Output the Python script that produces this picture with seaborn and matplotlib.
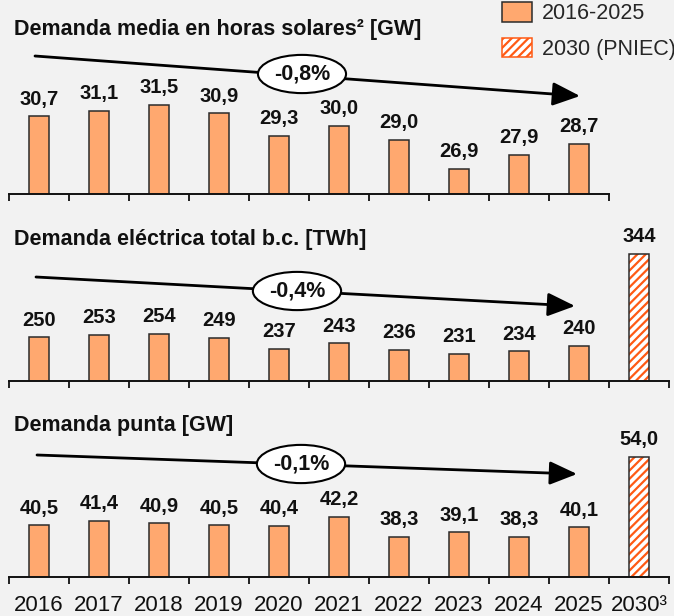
import matplotlib
matplotlib.use("Agg")
import matplotlib.pyplot as plt
from matplotlib.patches import Patch, Rectangle
import pandas as pd
import seaborn as sns

years = ["2016", "2017", "2018", "2019", "2020", "2021", "2022", "2023", "2024", "2025", "2030"]
year_labels = ["2016", "2017", "2018", "2019", "2020", "2021", "2022", "2023", "2024", "2025", "2030³"]

solar_gw = [30.7, 31.1, 31.5, 30.9, 29.3, 30.0, 29.0, 26.9, 27.9, 28.7]
total_twh = [250, 253, 254, 249, 237, 243, 236, 231, 234, 240, 344]
peak_gw = [40.5, 41.4, 40.9, 40.5, 40.4, 42.2, 38.3, 39.1, 38.3, 40.1, 54.0]

titles = ["Demanda media en horas solares² [GW]",
          "Demanda eléctrica total b.c. [TWh]",
          "Demanda punta [GW]"]
growth = ["-0,8%", "-0,4%", "-0,1%"]
legend_labels = ["2016-2025", "2030 (PNIEC)"]

BG = "#F2F2F2"
ORANGE = "#FFA86F"
HATCH = "#FF5A14"
EDGE = "#2B2B2B"
W, H = 674, 616

sns.set_theme(style="white")
plt.rcParams["font.family"] = ["Liberation Sans", "DejaVu Sans"]
plt.rcParams["hatch.linewidth"] = 1.6

fig = plt.figure(figsize=(W / 100, H / 100), dpi=100, facecolor=BG)


def fy(py):
    return 1 - py / H


def fx(px):
    return px / W


def panel(values, top, bottom, ymin, scale, decimals, n_ticks):
    ax = fig.add_axes([fx(9), fy(bottom), fx(669 - 9), (bottom - top) / H])
    ax.set_facecolor("none")
    df = pd.DataFrame({"year": years[:len(values)], "value": values})
    sns.barplot(data=df, x="year", y="value", order=years, color=ORANGE,
                width=0.33, edgecolor=EDGE, linewidth=1.1, saturation=1, ax=ax)
    ax.set_xlim(-0.5, 10.5)
    ax.set_ylim(ymin, ymin + (bottom - top) / scale)
    fmt = "{:.1f}" if decimals else "{:.0f}"
    ax.bar_label(ax.containers[0],
                 labels=[fmt.format(v).replace(".", ",") for v in values],
                 padding=5.5, fontsize=14.5, fontweight="bold", color="#111111")
    # 2030 bar hatched
    if len(values) == 11:
        bar = ax.patches[10]
        bar.set_facecolor("white")
        bar.set_edgecolor(HATCH)
        bar.set_hatch("////")
        bar.set_linewidth(0)
        ax.add_patch(Rectangle(bar.get_xy(), bar.get_width(), bar.get_height(),
                               fill=False, edgecolor=EDGE, linewidth=1.1))
    for s in ["top", "right", "left"]:
        ax.spines[s].set_visible(False)
    ax.spines["bottom"].set_bounds(-0.5, n_ticks - 0.5)
    ax.spines["bottom"].set_color("#111111")
    ax.spines["bottom"].set_linewidth(1.4)
    ax.set_yticks([])
    ax.set_xlabel("")
    ax.set_ylabel("")
    ax.set_xticks([i - 0.5 for i in range(n_ticks + 1)], minor=True)
    ax.tick_params(axis="x", which="minor", direction="out", length=5,
                   width=1.3, color="#111111", bottom=True)
    ax.tick_params(axis="x", which="major", length=0, pad=13)
    return ax


ax1 = panel(solar_gw, 40, 194, 25.1, 13.9, True, 10)
ax1.set_xticklabels([])
ax2 = panel(total_twh, 230, 381, 200.5, 0.885, False, 11)
ax2.set_xticklabels([])
ax3 = panel(peak_gw, 415, 577, 30.3, 5.06, True, 11)
ax3.set_xticklabels(year_labels, fontsize=16, color="#111111")

title_y = [30, 240, 425]
arrows = [((35, 56), (580, 96), (302, 74)),
          ((36, 277), (575, 306), (297, 291)),
          ((37, 455), (577, 474), (301, 464))]

for t, ty, g, (p0, p1, pc) in zip(titles, title_y, growth, arrows):
    fig.text(fx(14), fy(ty), t, fontsize=15.5, fontweight="bold",
             va="center", ha="left", color="#111111")
    fig.add_artist(plt.Annotation("", xy=(fx(p1[0]), fy(p1[1])), xytext=(fx(p0[0]), fy(p0[1])),
                                  xycoords="figure fraction", textcoords="figure fraction",
                                  arrowprops=dict(arrowstyle="-|>,head_length=1.4,head_width=0.6",
                                                  lw=2.0, color="black", shrinkA=0, shrinkB=0)))
    fig.text(fx(pc[0]), fy(pc[1]), g, fontsize=15.5, fontweight="bold", ha="center", va="center",
             color="#111111",
             bbox=dict(boxstyle="ellipse,pad=0.14", facecolor="white", edgecolor="black", lw=1.5))

handles = [Patch(facecolor=ORANGE, edgecolor=EDGE, linewidth=1.1),
           Patch(facecolor="white", edgecolor=HATCH, hatch="////", linewidth=1.1)]
leg = fig.legend(handles, legend_labels, loc="upper left", bbox_to_anchor=(fx(502), fy(2)),
                 frameon=False, fontsize=15.5, handlelength=1.4, handleheight=1.03,
                 handletextpad=0.46, labelspacing=0.62, borderpad=0, borderaxespad=0)

fig.savefig("out.png", dpi=100, facecolor=BG)
